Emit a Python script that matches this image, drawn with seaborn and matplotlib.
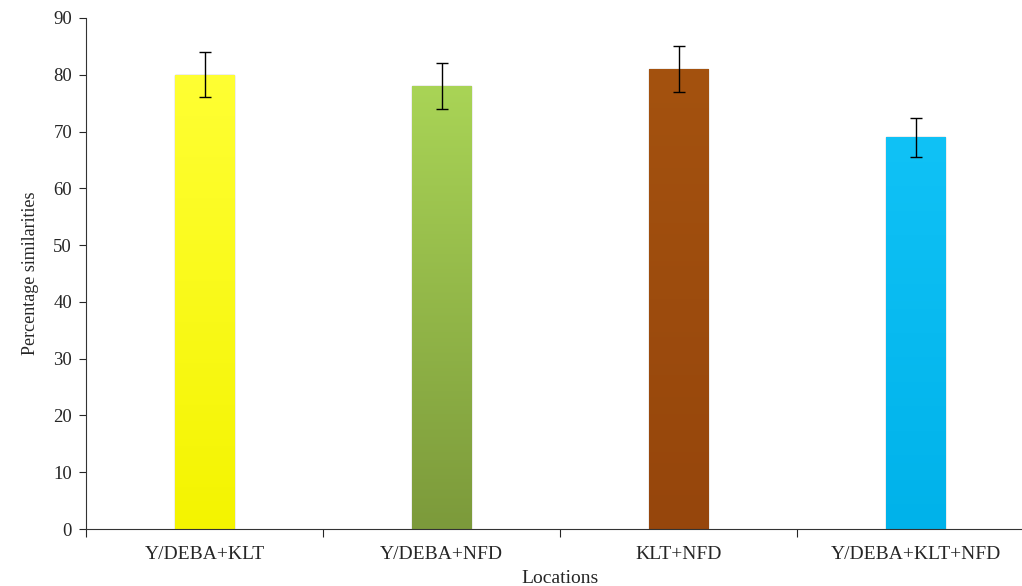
import numpy as np
import pandas as pd
import matplotlib
matplotlib.use('Agg')
import matplotlib.pyplot as plt
import seaborn as sns
from matplotlib.colors import LinearSegmentedColormap

# data
locations = ['Y/DEBA+KLT', 'Y/DEBA+NFD', 'KLT+NFD', 'Y/DEBA+KLT+NFD']
similarity = [80, 78, 81, 69]
errors = [4, 4, 4, 3.4]
bar_colors = ['#ffff00', '#92b843', '#9c4a0e', '#00b9f1']
top_colors = ['#ffff33', '#a9d456', '#a4520f', '#10c2f6']
bottom_colors = ['#f4f400', '#7c9a3b', '#96460c', '#00b2ea']

df = pd.DataFrame({'Locations': locations, 'Percentage similarities': similarity})

sns.set_style('white')
plt.rcParams['font.family'] = ['Liberation Serif', 'DejaVu Serif']

fig = plt.figure(figsize=(10.22, 5.86), dpi=100)
ax = fig.add_axes([86 / 1022, 57 / 586, 948 / 1022, 511 / 586])

sns.barplot(data=df, x='Locations', y='Percentage similarities', hue='Locations',
            palette=bar_colors, width=0.25, legend=False, ax=ax,
            edgecolor='#a8a8a8', linewidth=1.0)

# vertical gradient inside each bar
for patch, c_top, c_bot in zip(ax.patches, top_colors, bottom_colors):
    x0, y0 = patch.get_x(), patch.get_y()
    w, h = patch.get_width(), patch.get_height()
    cmap = LinearSegmentedColormap.from_list('g', [c_bot, c_top])
    grad = np.linspace(0, 1, 256).reshape(-1, 1)
    im = ax.imshow(grad, cmap=cmap, origin='lower', aspect='auto',
                   extent=[x0, x0 + w, y0, y0 + h], zorder=patch.get_zorder() + 0.1)
    im.set_clip_path(patch)

ax.errorbar(range(len(locations)), similarity, yerr=errors, fmt='none',
            ecolor='black', elinewidth=1, capsize=4, capthick=1, zorder=5)

ax.set_xlim(-0.5, 3.5)
ax.set_ylim(0, 90)
ax.set_yticks(range(0, 91, 10))
ax.set_xticks(range(len(locations)))
ax.set_xticklabels(locations, fontsize=14)
ax.tick_params(axis='y', labelsize=13.5, length=5, width=0.8, direction='out', left=True, pad=5)
ax.tick_params(axis='x', length=0, pad=12)
# boundary tick marks between categories
ax.set_xticks([-0.5, 0.5, 1.5, 2.5, 3.5], minor=True)
ax.tick_params(axis='x', which='minor', length=6, width=0.8, direction='out', bottom=True)

for s in ['top', 'right']:
    ax.spines[s].set_visible(False)
for s in ['left', 'bottom']:
    ax.spines[s].set_color('#333333')
    ax.spines[s].set_linewidth(0.8)

ax.set_ylabel('Percentage similarities', fontsize=13, labelpad=10)
ax.set_xlabel('Locations', fontsize=14, labelpad=5)
ax.grid(False)

plt.savefig('out.png', dpi=100)
